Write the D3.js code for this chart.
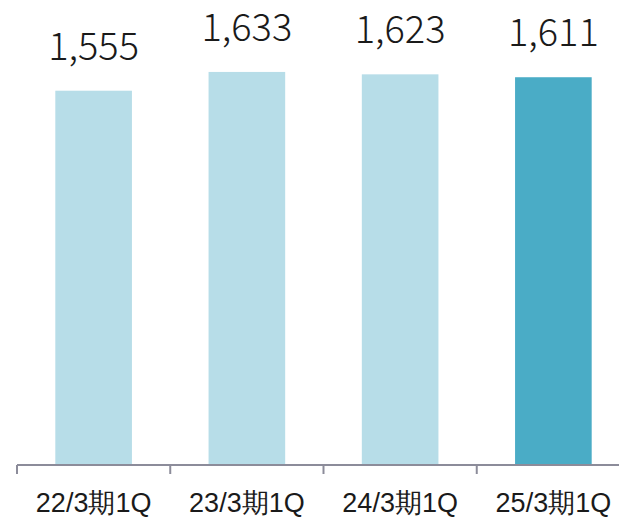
<!DOCTYPE html>
<html>
<head>
<meta charset="utf-8">
<script src="https://cdn.jsdelivr.net/npm/d3@7"></script>
<style>
  body { margin: 0; background: #fff; }
  svg { display: block; font-family: "Noto Sans CJK JP", "Noto Sans", sans-serif; }
</style>
</head>
<body>
<div id="chart"></div>
<script>
// 四半期ラベルと値
const categories = ["22/3期1Q", "23/3期1Q", "24/3期1Q", "25/3期1Q"];
const values = [1555, 1633, 1623, 1611];
const highlight = [false, false, false, true];

const width = 619, height = 517;
const baseY = 465;

const svg = d3.select("#chart").append("svg")
    .attr("width", width).attr("height", height);

// 軸は画面右端を越えて続く
const x = d3.scaleBand().domain(categories).range([17, 630])
    .paddingInner(0.5).paddingOuter(0.25);
const y = d3.scaleLinear().domain([0, 1800]).range([baseY, baseY - 1800 * 0.2407]);

svg.selectAll(".bar").data(values).enter().append("rect")
    .attr("x", (d, i) => x(categories[i]))
    .attr("y", d => y(d))
    .attr("width", x.bandwidth())
    .attr("height", d => baseY - y(d))
    .attr("fill", (d, i) => highlight[i] ? "#4aacc6" : "#b7dde8");

svg.selectAll(".val").data(values).enter().append("text")
    .attr("x", (d, i) => x(categories[i]) + x.bandwidth() / 2)
    .attr("y", d => y(d) - 31)
    .attr("text-anchor", "middle")
    .style("font-size", "38px")
    .style("font-weight", 300)
    .attr("fill", "#1a1a1a")
    .text(d => d3.format(",")(d));

// x軸
const axis = svg.append("g").attr("transform", `translate(0,${baseY})`)
    .call(d3.axisBottom(x).tickSize(0));
axis.select(".domain").remove();
axis.selectAll("text")
    .attr("y", 47).attr("dy", null)
    .style("font-size", "27px")
    .style("font-weight", 300)
    .attr("fill", "#1a1a1a")
    .attr("font-family", null);

const step = x.step();
const edges = d3.range(5).map(i => 17 + i * step);
svg.append("line").attr("x1", 17).attr("x2", 630).attr("y1", baseY).attr("y2", baseY)
    .attr("stroke", "#8c8c9a").attr("stroke-width", 2);
svg.selectAll(".tk").data(edges).enter().append("line")
    .attr("x1", d => d).attr("x2", d => d)
    .attr("y1", baseY).attr("y2", baseY + 9)
    .attr("stroke", "#8c8c9a").attr("stroke-width", 2);
</script>
</body>
</html>
